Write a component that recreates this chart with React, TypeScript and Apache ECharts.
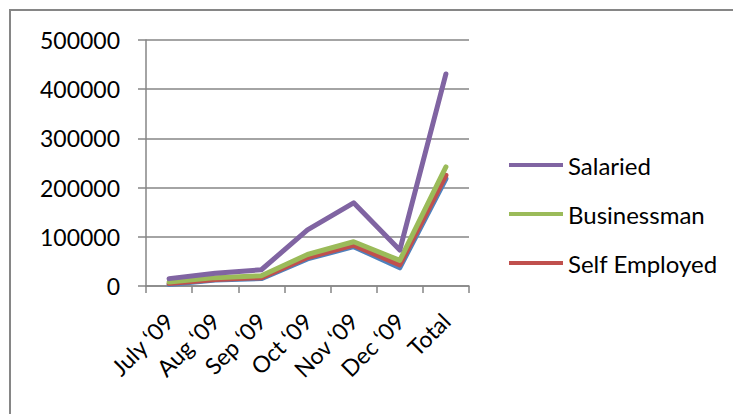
import React, { useEffect, useRef } from "react";
import * as echarts from "echarts";

const categories = ["July \u201809", "Aug \u201809", "Sep \u201809", "Oct \u201809", "Nov \u201809", "Dec \u201809", "Total"];
const yTicks = [0, 100000, 200000, 300000, 400000, 500000];
const hiddenSeries = [3000, 12000, 15000, 55000, 80000, 37000, 218000];
const selfEmployed = [5000, 13000, 17000, 58000, 83000, 43000, 225000];
const businessman = [8000, 17000, 21000, 64000, 90000, 52000, 242000];
const salaried = [15000, 26000, 33000, 114000, 169000, 73000, 431000];

const FONT = "Lato";

export default function App() {
  const ref = useRef<HTMLDivElement>(null);
  useEffect(() => {
    document.body.style.margin = "0";
    const chart = echarts.init(ref.current!, null, { renderer: "svg" });
    const lineSeries = (name: string, data: number[], color: string) => ({
      name,
      type: "line",
      data,
      symbol: "none",
      lineStyle: { color, width: 5, cap: "round", join: "round" },
      itemStyle: { color },
    });
    chart.setOption({
      animation: false,
      backgroundColor: "#ffffff",
      textStyle: { fontFamily: FONT },
      grid: { left: 146, right: 264, top: 40, bottom: 128 },
      graphic: [
        {
          type: "rect",
          shape: { x: 10, y: 10, width: 900, height: 600 },
          style: { fill: "none", stroke: "#868686", lineWidth: 2 },
          silent: true,
        },
      ],
      legend: {
        data: ["Salaried", "Businessman", "Self Employed"],
        orient: "vertical",
        left: 504,
        top: 148,
        itemWidth: 54,
        itemHeight: 24,
        itemGap: 25,
        icon: "path://M0,0 L54,0 L54,4 L0,4 Z",
        textStyle: { fontFamily: FONT, fontSize: 24, color: "#000", padding: [0, 0, 0, 0] },
      },
      xAxis: {
        type: "category",
        data: categories,
        boundaryGap: true,
        axisLine: { lineStyle: { color: "#868686", width: 1.5 } },
        axisTick: { show: true, length: 7, lineStyle: { color: "#868686", width: 1.5 } },
        axisLabel: { rotate: 45, margin: 31, fontSize: 23, color: "#000", fontFamily: FONT, interval: 0 },
        splitLine: { show: false },
      },
      yAxis: {
        type: "value",
        min: 0,
        max: yTicks[yTicks.length - 1],
        interval: 100000,
        axisLine: { show: true, lineStyle: { color: "#868686", width: 1.5 } },
        axisTick: { show: true, length: 8, lineStyle: { color: "#868686", width: 1.5 } },
        axisLabel: { margin: 26, fontSize: 23, color: "#000", fontFamily: FONT, formatter: (v: number) => String(v) },
        splitLine: { show: true, lineStyle: { color: "#868686", width: 1.5 } },
      },
      series: [
        { ...lineSeries("Series 4", hiddenSeries, "#4F81BD") },
        lineSeries("Self Employed", selfEmployed, "#C0504D"),
        lineSeries("Businessman", businessman, "#9BBB59"),
        lineSeries("Salaried", salaried, "#8064A2"),
      ],
    });
    return () => chart.dispose();
  }, []);
  return <div ref={ref} style={{ width: 733, height: 414 }} />;
}
